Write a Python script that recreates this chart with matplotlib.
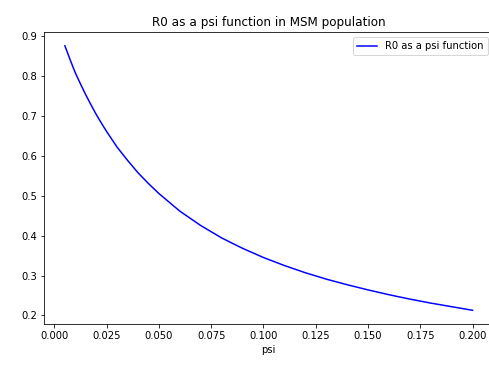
import matplotlib
matplotlib.use('Agg')
import matplotlib.pyplot as plt

# R0 values
psi = [0.005, 0.0075, 0.010, 0.0125, 0.015, 0.0175, 0.020, 0.0225, 0.025,
       0.030, 0.035, 0.040, 0.045, 0.050, 0.055, 0.060, 0.070, 0.080, 0.090,
       0.100, 0.110, 0.120, 0.130, 0.140, 0.150, 0.160, 0.170, 0.180, 0.190,
       0.200]
r0 = [0.875, 0.840, 0.807, 0.779, 0.752, 0.727, 0.703, 0.681, 0.660,
      0.621, 0.588, 0.557, 0.530, 0.505, 0.483, 0.461, 0.425, 0.394, 0.368,
      0.345, 0.325, 0.307, 0.291, 0.277, 0.264, 0.252, 0.241, 0.231, 0.222,
      0.213]

fig = plt.figure(figsize=(489 / 72, 367 / 72), dpi=72)
ax = fig.add_axes([0.091, 0.1185, 0.917, 0.793])

ax.plot(psi, r0, color='blue', linewidth=1.5, label='R0 as a psi function')
ax.set_title('R0 as a psi function in MSM population')
ax.set_xlabel('psi')
ax.set_xticks([0.0, 0.025, 0.05, 0.075, 0.1, 0.125, 0.15, 0.175, 0.2])
ax.legend(loc='upper right')
# right edge of the axes falls just outside the cropped reference image
ax.spines['right'].set_visible(False)

fig.savefig('out.png', dpi=72, facecolor='white')
